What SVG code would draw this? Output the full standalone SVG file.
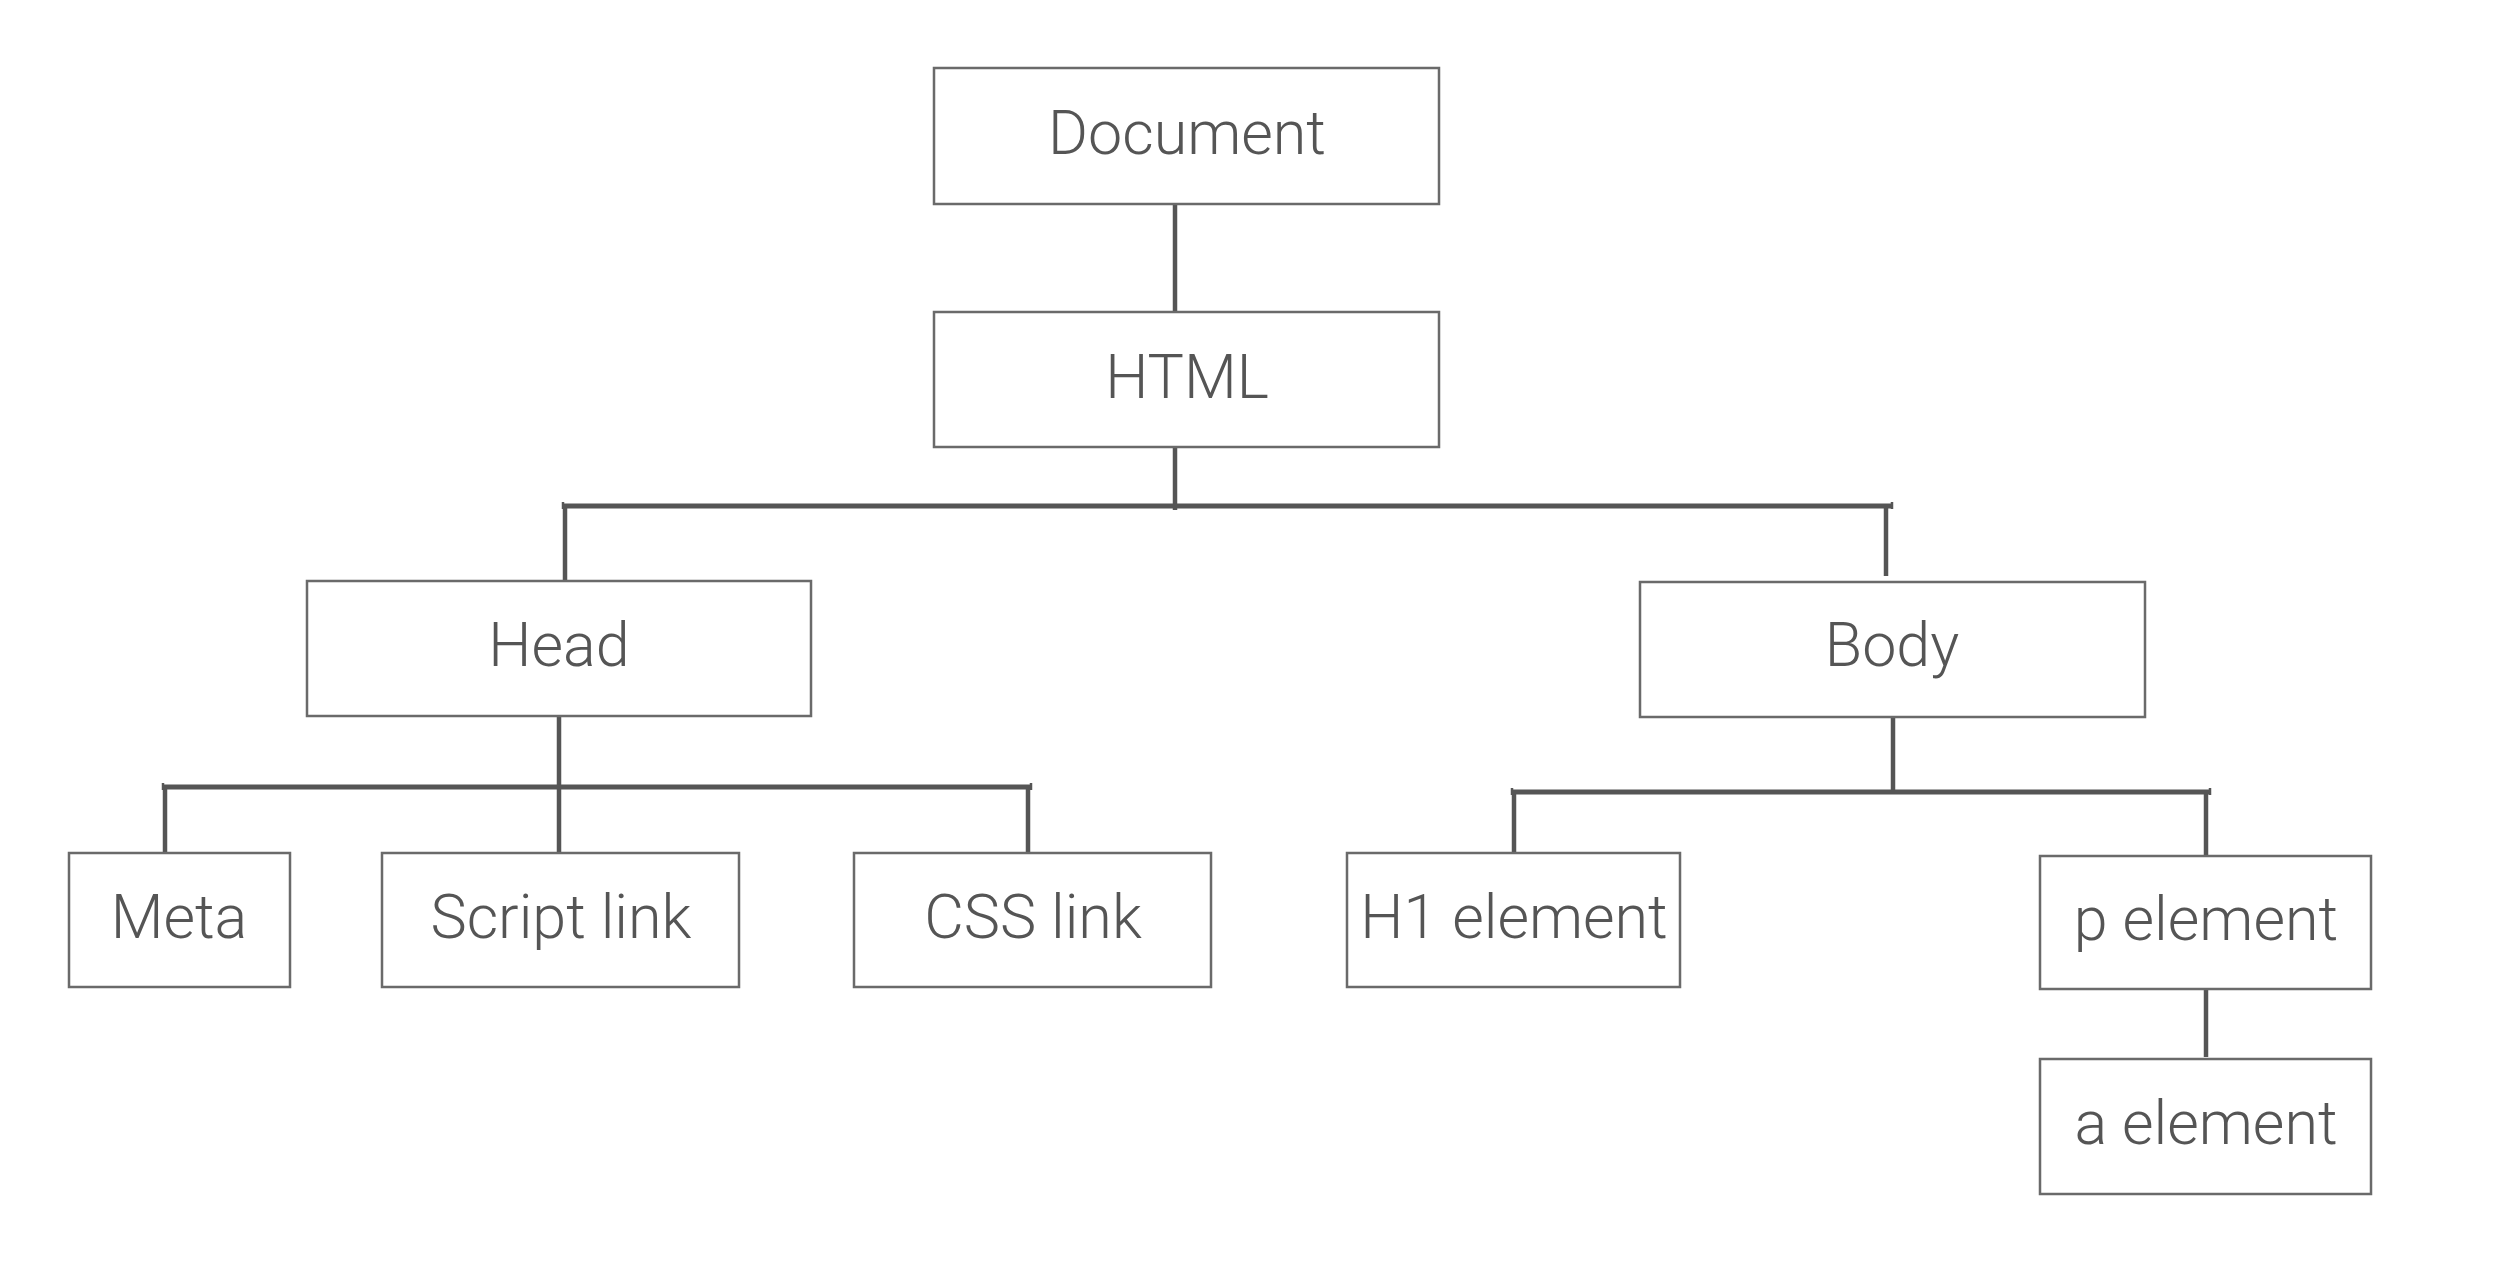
<svg xmlns="http://www.w3.org/2000/svg" width="2510" height="1281" viewBox="0 0 2510 1281">
  <style>
    .box { fill: #ffffff; stroke: #6a6a6a; stroke-width: 2.5; }
    .lbl { font-family: Roboto, "Liberation Sans", Arial, sans-serif; font-weight: 300; font-size: 61px; fill: #555555; text-anchor: middle; }
    .ln { stroke: #555555; stroke-width: 4.5; fill: none; }
    .bar { stroke: #555555; stroke-width: 5; fill: none; }
    .tick { stroke: #555555; stroke-width: 2.5; fill: none; }
  </style>
  <rect x="0" y="0" width="2510" height="1281" fill="#ffffff"/>
  <g id="connectors">
    <line class="ln" x1="1175" y1="204" x2="1175" y2="312"/>
    <line class="ln" x1="1175" y1="447" x2="1175" y2="510"/>
    <line class="bar" x1="563" y1="506" x2="1892" y2="506"/>
    <line class="tick" x1="563" y1="502" x2="563" y2="509"/>
    <line class="tick" x1="1892" y1="502" x2="1892" y2="509"/>
    <line class="ln" x1="565" y1="506" x2="565" y2="581"/>
    <line class="ln" x1="1886" y1="506" x2="1886" y2="576"/>
    <line class="ln" x1="559" y1="716" x2="559" y2="853"/>
    <line class="bar" x1="163" y1="787" x2="1031" y2="787"/>
    <line class="tick" x1="163" y1="783" x2="163" y2="790"/>
    <line class="tick" x1="1031" y1="783" x2="1031" y2="790"/>
    <line class="ln" x1="165" y1="787" x2="165" y2="853"/>
    <line class="ln" x1="1028" y1="787" x2="1028" y2="853"/>
    <line class="ln" x1="1893" y1="717" x2="1893" y2="792"/>
    <line class="bar" x1="1512" y1="792" x2="2210" y2="792"/>
    <line class="tick" x1="1512" y1="788" x2="1512" y2="795"/>
    <line class="tick" x1="2210" y1="788" x2="2210" y2="795"/>
    <line class="ln" x1="1514" y1="792" x2="1514" y2="853"/>
    <line class="ln" x1="2206" y1="792" x2="2206" y2="856"/>
    <line class="ln" x1="2206" y1="989" x2="2206" y2="1057"/>
  </g>
  <g id="node-document">
    <rect class="box" x="934" y="68" width="505" height="136"/>
    <text class="lbl" x="1187" y="154">Document</text>
  </g>
  <g id="node-html">
    <rect class="box" x="934" y="312" width="505" height="135"/>
    <text class="lbl" x="1187" y="398">HTML</text>
  </g>
  <g id="node-head">
    <rect class="box" x="307" y="581" width="504" height="135"/>
    <text class="lbl" x="559" y="666">Head</text>
  </g>
  <g id="node-body">
    <rect class="box" x="1640" y="582" width="505" height="135"/>
    <text class="lbl" x="1892" y="666">Body</text>
  </g>
  <g id="node-meta">
    <rect class="box" x="69" y="853" width="221" height="134"/>
    <text class="lbl" x="179" y="938">Meta</text>
  </g>
  <g id="node-script-link">
    <rect class="box" x="382" y="853" width="357" height="134"/>
    <text class="lbl" x="561" y="938">Script link</text>
  </g>
  <g id="node-css-link">
    <rect class="box" x="854" y="853" width="357" height="134"/>
    <text class="lbl" x="1033" y="938">CSS link</text>
  </g>
  <g id="node-h1-element">
    <rect class="box" x="1347" y="853" width="333" height="134"/>
    <text class="lbl" x="1514" y="938">H1 element</text>
  </g>
  <g id="node-p-element">
    <rect class="box" x="2040" y="856" width="331" height="133"/>
    <text class="lbl" x="2206" y="940">p element</text>
  </g>
  <g id="node-a-element">
    <rect class="box" x="2040" y="1059" width="331" height="135"/>
    <text class="lbl" x="2206" y="1144">a element</text>
  </g>
</svg>
